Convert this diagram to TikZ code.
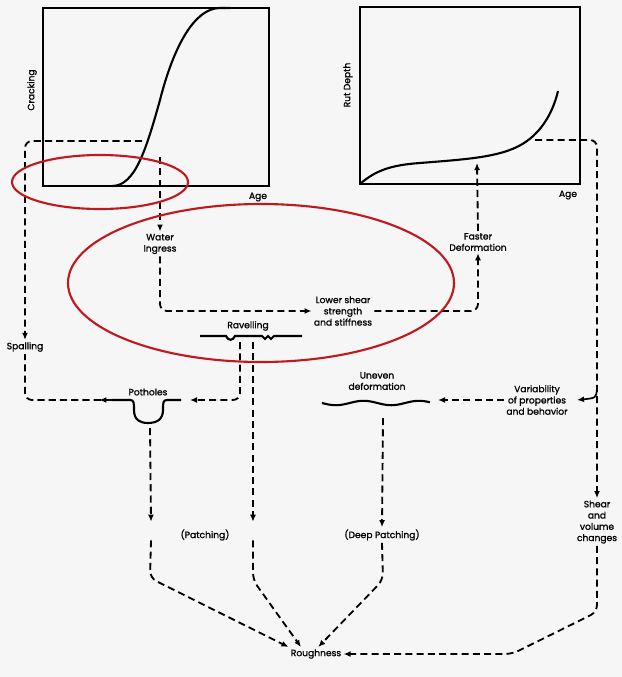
\documentclass[tikz,border=0pt]{standalone}
\usepackage{fontspec}
\setmainfont{Poppins}[FakeBold=1.2]
\usepackage{tikz}
\usetikzlibrary{arrows.meta,calc,decorations.markings,positioning}
\usepackage{xcolor}
\definecolor{paper}{RGB}{246,246,246}
\definecolor{markred}{RGB}{192,24,28}
\newcommand{\lblfont}{\fontsize{6.5}{8}\selectfont}

\tikzset{
  flow/.style={line width=1.3pt,dash pattern=on 5pt off 3pt,rounded corners=5pt,
               -{Latex[length=5pt,width=4.2pt]}},
  lbl/.style={font=\lblfont,align=center,inner sep=1.5pt},
  frame/.style={line width=1pt},
  trend/.style={line width=1.5pt},
  ring/.style={markred,line width=1.5pt},
  gapbox/.style={inner sep=0pt,minimum width=2pt,minimum height=0.45cm},
  headmark/.style={postaction={decorate,decoration={markings,
      mark=at position #1 with {\arrow{Latex[length=5pt,width=4.2pt]}}}}}
}

\begin{document}
\begin{tikzpicture}[x=0.025cm,y=-0.025cm]
  \fill[paper] (0,0) rectangle (622,677);
  \useasboundingbox (0,0) rectangle (622,677);

  % cracking versus age
  \draw[frame] (43,8) rectangle (269,186);
  \draw[trend] (112,186) .. controls (135,186) and (146,150) .. (160,100)
     .. controls (174,45) and (195,8) .. (220,8) -- (230,8);
  \node[lbl,rotate=90] (crkaxis) at (32,90) {Cracking};
  \node[lbl] (crkage) at (258,197) {Age};
  \coordinate (crk1) at (160,157);
  \coordinate (crk2) at (142,141);

  % rut depth versus age
  \draw[frame] (360,7) rectangle (580,184);
  \draw[trend] (360,184) .. controls (376,170) and (392,165) .. (420,163)
     .. controls (470,159) and (505,157) .. (527,141)
     .. controls (545,128) and (554,108) .. (558,91);
  \node[lbl,rotate=90] (rutaxis) at (348,85) {Rut Depth};
  \node[lbl] (rutage) at (568,195) {Age};
  \coordinate (rut1) at (477,163);
  \coordinate (rut2) at (535,140);

  % labels
  \node[lbl] (water) at (160,244) {Water\\Ingress};
  \node[lbl] (faster) at (478,242) {Faster\\Deformation};
  \node[lbl] (lower) at (343,311) {Lower shear\\strength\\and stiffness};
  \node[lbl] (spalling) at (25,347) {Spalling};
  \node[lbl] (ravelling) at (248,326) {Ravelling};
  \node[lbl] (potholes) at (148,392) {Potholes};
  \node[lbl] (uneven) at (377,381) {Uneven\\deformation};
  \node[lbl] (variab) at (537,400) {Variability\\of properties\\and behavior};
  \node[lbl] (shear) at (597,522) {Shear\\and\\volume\\changes};
  \node[lbl] (patching) at (205,535) {(Patching)};
  \node[lbl] (deep) at (382,535) {(Deep Patching)};
  \node[lbl] (rough) at (316,654) {Roughness};
  \node[gapbox] (gapP) at (151,531) {};
  \node[gapbox] (gapR) at (253,531) {};

  % surface profiles
  \draw[trend] (200,336) -- (226,336) .. controls (228,341) and (233,341) .. (235,336)
     -- (262,336) -- (265,339) -- (268,336) -- (271,339) -- (274,336) -- (302,336);
  \draw[trend] (112,400) -- (130,400) .. controls (134,400) and (134,403) .. (134,410)
     .. controls (134,420) and (140,423) .. (148,423) .. controls (156,423) and (163,420) .. (163,410)
     .. controls (163,403) and (163,400) .. (167,400) -- (181,400);
  \draw[trend] plot[domain=322:430,samples=60] (\x,{403+2.2*sin((\x-322)*6.5)});
  \coordinate (phL) at (112,400);
  \coordinate (phR) at (190,400);
  \coordinate (phB) at (150,428);
  \coordinate (rvA) at (240,342);
  \coordinate (rvB) at (253,342);
  \coordinate (unB) at (383,418);
  \coordinate (unR) at (438,400);
  \coordinate (vb) at (597,389);
  \coordinate (vbT) at (577,400);

  % dashed connectors
  \draw[flow] (crk1) -- (water.north);
  \draw[flow] (water.south) |- (lower.west);
  \draw[flow] (lower.east) -| (faster.south);
  \draw[flow] (faster.north) -- (rut1);
  \draw[flow] (crk2) -| (spalling.north);
  \draw[flow,-,headmark=9pt] (phL) -| (spalling.south);
  \draw[flow] (rvA) |- (phR);
  \draw[flow] (rvB) -- (gapR.north);
  \draw[flow] (gapR.south) -- (253,580) -- (rough.155);
  \draw[flow] (phB) -- (gapP.north);
  \draw[flow] (gapP.south) -- (150,578) -- (rough.north west);
  \draw[flow] (unB) -- (deep.north);
  \draw[flow] (deep.south) -- (383,580) -- (rough.72);
  \draw[flow] (rut2) -| (shear.north);
  \draw[flow] (shear.south) -- (597,612) -- (512,654) -- (rough.east);
  \draw[flow] (variab.west) -- (unR);
  \draw[line width=1.2pt,-{Latex[length=5pt,width=4.2pt]}] (vb) .. controls (596,398) .. (vbT);

  % red marks
  \draw[ring] (100,182) ellipse [x radius=88,y radius=27];
  \draw[ring] (261,283) ellipse [x radius=193,y radius=79];
\end{tikzpicture}
\end{document}
